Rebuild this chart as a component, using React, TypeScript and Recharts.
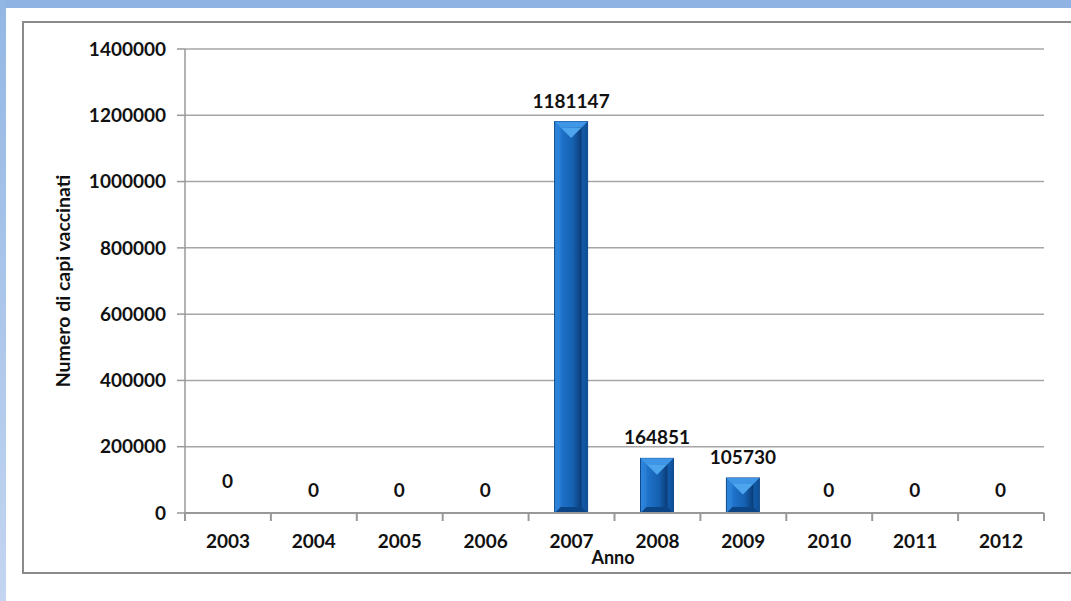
import React from "react";
import {
  BarChart,
  Bar,
  XAxis,
  YAxis,
  CartesianGrid,
  LabelList,
} from "recharts";

const years = ["2003", "2004", "2005", "2006", "2007", "2008", "2009", "2010", "2011", "2012"];
const vaccinati = [0, 0, 0, 0, 1181147, 164851, 105730, 0, 0, 0];
const yTicks = [0, 200000, 400000, 600000, 800000, 1000000, 1200000, 1400000];

const data = years.map((anno, i) => ({ anno, valore: vaccinati[i] }));

const W = 1071;
const H = 601;
const M = { top: 49, right: 27, bottom: 58, left: 40 };
const BAND = (W - M.left - 145 - M.right) / years.length;
const FONT = "Lato, 'Open Sans', sans-serif";

// barra "smussata" stile Excel
const BevelBar = (props: any) => {
  const { x, y, width, height } = props;
  if (!height || height <= 0) return null;
  const b = Math.min(6, height / 3);
  const tri = Math.min((width - 2 * b) / 2, (height - 2 * b) / 2);
  return (
    <g>
      <rect x={x} y={y} width={width} height={height} fill="url(#outer)" stroke="#0d4a8c" strokeWidth={1} />
      <polygon
        points={`${x},${y} ${x + width},${y} ${x + width - b},${y + b} ${x + b},${y + b}`}
        fill="#3f96e6"
      />
      <polygon
        points={`${x},${y + height} ${x + width},${y + height} ${x + width - b},${y + height - b} ${x + b},${y + height - b}`}
        fill="#0b4585"
      />
      <rect x={x + b} y={y + b} width={width - 2 * b} height={height - 2 * b} fill="url(#inner)" />
      <polygon
        points={`${x + b},${y + b} ${x + width - b},${y + b} ${x + width / 2},${y + b + tri}`}
        fill="#4da5ee"
      />
    </g>
  );
};

const ValueLabel = (props: any) => {
  const { x, y, width, value, index } = props;
  let dy = -14;
  if (value === 0) dy = index === 0 ? -25 : -16;
  return (
    <text x={x + width / 2} y={y + dy} textAnchor="middle" fontFamily={FONT} fontWeight={700} fontSize={19} fill="#111">
      {value}
    </text>
  );
};

const YearTick = (props: any) => {
  const { x, y, payload, index } = props;
  return (
    <g>
      <line x1={x - BAND / 2} y1={y} x2={x - BAND / 2} y2={y + 8} stroke="#999" strokeWidth={2} />
      {index === years.length - 1 && (
        <line x1={x + BAND / 2} y1={y} x2={x + BAND / 2} y2={y + 8} stroke="#999" strokeWidth={2} />
      )}
      <text x={x} y={y + 35} textAnchor="middle" fontFamily={FONT} fontWeight={700} fontSize={19} fill="#111">
        {payload.value}
      </text>
    </g>
  );
};

export default function App() {
  return (
    <div style={{ position: "absolute", left: 0, top: 0, width: W, height: H, background: "#fff", overflow: "hidden" }}>
      <div style={{ position: "absolute", left: 0, top: 0, width: W, height: 8, background: "#8fb4e3" }} />
      <div
        style={{
          position: "absolute",
          left: 0,
          top: 0,
          width: 6,
          height: H,
          background: "linear-gradient(#93b7e4, #c3d5f1)",
        }}
      />
      <div
        style={{
          position: "absolute",
          left: 22,
          top: 21,
          width: W,
          height: 553,
          border: "2px solid #8a8a8a",
          boxSizing: "border-box",
        }}
      />
      <div style={{ position: "absolute", left: 0, top: 0 }}>
        <BarChart width={W} height={H} data={data} margin={M} barSize={33}>
          <defs>
            <linearGradient id="outer" x1="0" y1="0" x2="1" y2="0">
              <stop offset="0" stopColor="#2f86dc" />
              <stop offset="0.5" stopColor="#1a6fc6" />
              <stop offset="1" stopColor="#0f4f98" />
            </linearGradient>
            <linearGradient id="inner" x1="0" y1="0" x2="1" y2="0">
              <stop offset="0" stopColor="#1f74cc" />
              <stop offset="0.6" stopColor="#1560b0" />
              <stop offset="1" stopColor="#0a3b75" />
            </linearGradient>
          </defs>
          <CartesianGrid vertical={false} stroke="#a6a6a6" strokeWidth={1.5} />
          <XAxis
            dataKey="anno"
            stroke="#999"
            strokeWidth={2}
            tickLine={false}
            tickSize={0}
            tickMargin={0}
            tick={<YearTick />}
            interval={0}
            label={{
              content: () => (
                <text x={613} y={564} textAnchor="middle" fontFamily={FONT} fontWeight={700} fontSize={18} fill="#111">
                  Anno
                </text>
              ),
            }}
          />
          <YAxis
            width={145}
            domain={[0, 1400000]}
            ticks={yTicks}
            interval={0}
            stroke="#999"
            strokeWidth={1.5}
            tickSize={8}
            tickMargin={11}
            tick={{ fontFamily: FONT, fontWeight: 700, fontSize: 19, fill: "#111" }}
            tickLine={{ stroke: "#999", strokeWidth: 1.5 }}
            label={{
              content: () => (
                <text
                  x={62}
                  y={281}
                  transform="rotate(-90 62 281)"
                  textAnchor="middle"
                  dominantBaseline="central"
                  fontFamily={FONT}
                  fontWeight={700}
                  fontSize={19.5}
                  fill="#111"
                >
                  Numero di capi vaccinati
                </text>
              ),
            }}
          />
          <Bar dataKey="valore" shape={<BevelBar />} isAnimationActive={false}>
            <LabelList dataKey="valore" content={<ValueLabel />} />
          </Bar>
        </BarChart>
      </div>
    </div>
  );
}
